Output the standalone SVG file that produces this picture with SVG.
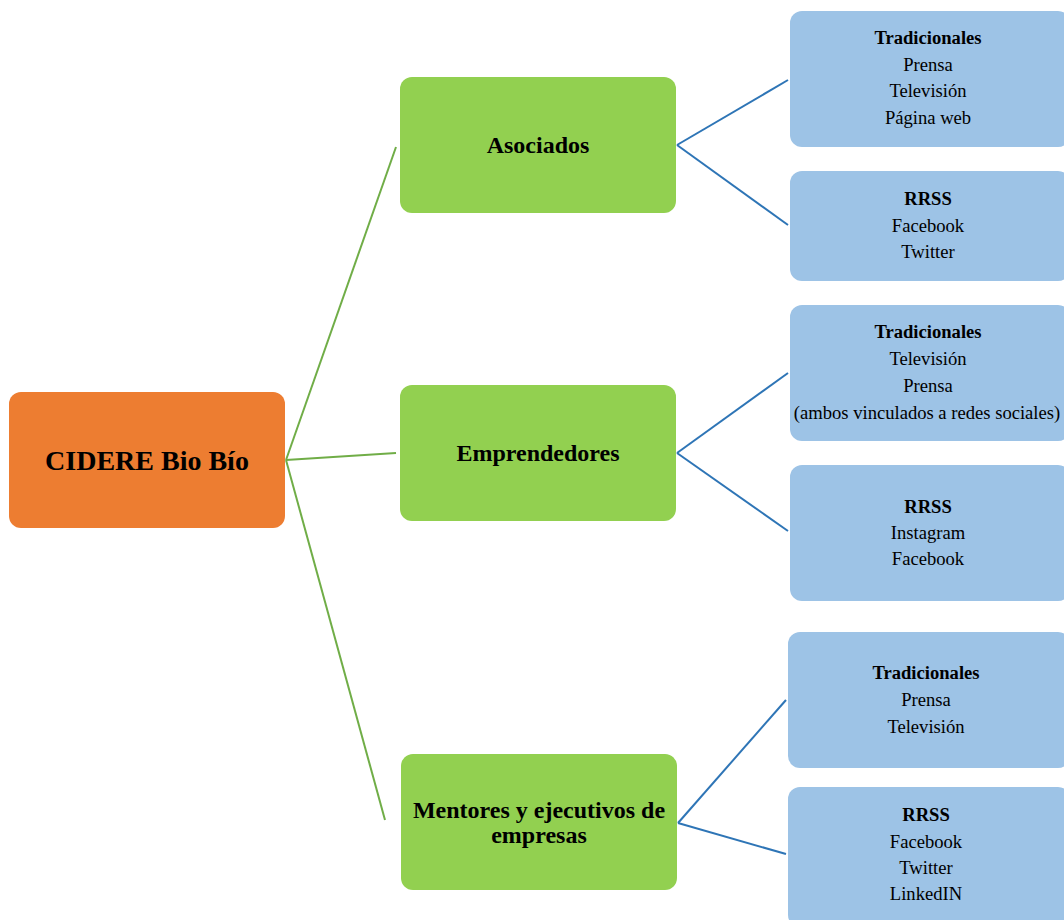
<svg xmlns="http://www.w3.org/2000/svg" width="1064" height="920" viewBox="0 0 1064 920">
<style>
.root{fill:#ED7D31}
.g{fill:#92D050}
.b{fill:#9DC3E6}
.lg{stroke:#70AD47;stroke-width:2;fill:none}
.lb{stroke:#2E75B6;stroke-width:2;fill:none}
text{font-family:"Liberation Serif","Times New Roman",serif;fill:#000;text-anchor:middle}
.t1{font-size:28px;font-weight:bold}
.t2{font-size:24px;font-weight:bold}
.t3{font-size:18.6px}
.bd{font-weight:bold}
</style>
<rect width="1064" height="920" fill="#fff"/>
<g id="connectors">
<line class="lg" x1="286" y1="460" x2="396" y2="147"/>
<line class="lg" x1="286" y1="460" x2="396" y2="453"/>
<line class="lg" x1="286" y1="460" x2="385" y2="820"/>
<line class="lb" x1="677" y1="145" x2="788" y2="80"/>
<line class="lb" x1="677" y1="145" x2="788" y2="225"/>
<line class="lb" x1="677" y1="453" x2="788" y2="373"/>
<line class="lb" x1="677" y1="453" x2="788" y2="531"/>
<line class="lb" x1="678" y1="823" x2="786" y2="700"/>
<line class="lb" x1="678" y1="823" x2="786" y2="854"/>
</g>
<g id="root">
<rect class="root" x="9" y="392" width="276" height="136" rx="12"/>
<text class="t1" x="147" y="470">CIDERE Bio Bío</text>
</g>
<g id="asociados">
<rect class="g" x="400" y="77" width="276" height="136" rx="12"/>
<text class="t2" x="538" y="153">Asociados</text>
</g>
<g id="emprendedores">
<rect class="g" x="400" y="385" width="276" height="136" rx="12"/>
<text class="t2" x="538" y="461">Emprendedores</text>
</g>
<g id="mentores">
<rect class="g" x="401" y="754" width="276" height="136" rx="12"/>
<text class="t2" x="539" y="818">Mentores y ejecutivos de</text>
<text class="t2" x="539" y="843">empresas</text>
</g>
<g id="a-trad">
<rect class="b" x="790" y="11" width="280" height="136" rx="12"/>
<text class="t3 bd" x="928" y="44">Tradicionales</text>
<text class="t3" x="928" y="71">Prensa</text>
<text class="t3" x="928" y="97">Televisión</text>
<text class="t3" x="928" y="124">Página web</text>
</g>
<g id="a-rrss">
<rect class="b" x="790" y="171" width="280" height="110" rx="12"/>
<text class="t3 bd" x="928" y="205">RRSS</text>
<text class="t3" x="928" y="232">Facebook</text>
<text class="t3" x="928" y="258">Twitter</text>
</g>
<g id="e-trad">
<rect class="b" x="790" y="305" width="280" height="136" rx="12"/>
<text class="t3 bd" x="928" y="338">Tradicionales</text>
<text class="t3" x="928" y="365">Televisión</text>
<text class="t3" x="928" y="392">Prensa</text>
<text class="t3" x="927" y="419">(ambos vinculados a redes sociales)</text>
</g>
<g id="e-rrss">
<rect class="b" x="790" y="465" width="280" height="136" rx="12"/>
<text class="t3 bd" x="928" y="513">RRSS</text>
<text class="t3" x="928" y="539">Instagram</text>
<text class="t3" x="928" y="565">Facebook</text>
</g>
<g id="m-trad">
<rect class="b" x="788" y="632" width="282" height="136" rx="12"/>
<text class="t3 bd" x="926" y="679">Tradicionales</text>
<text class="t3" x="926" y="706">Prensa</text>
<text class="t3" x="926" y="733">Televisión</text>
</g>
<g id="m-rrss">
<rect class="b" x="788" y="787" width="282" height="140" rx="12"/>
<text class="t3 bd" x="926" y="821">RRSS</text>
<text class="t3" x="926" y="848">Facebook</text>
<text class="t3" x="926" y="874">Twitter</text>
<text class="t3" x="926" y="900">LinkedIN</text>
</g>
</svg>
